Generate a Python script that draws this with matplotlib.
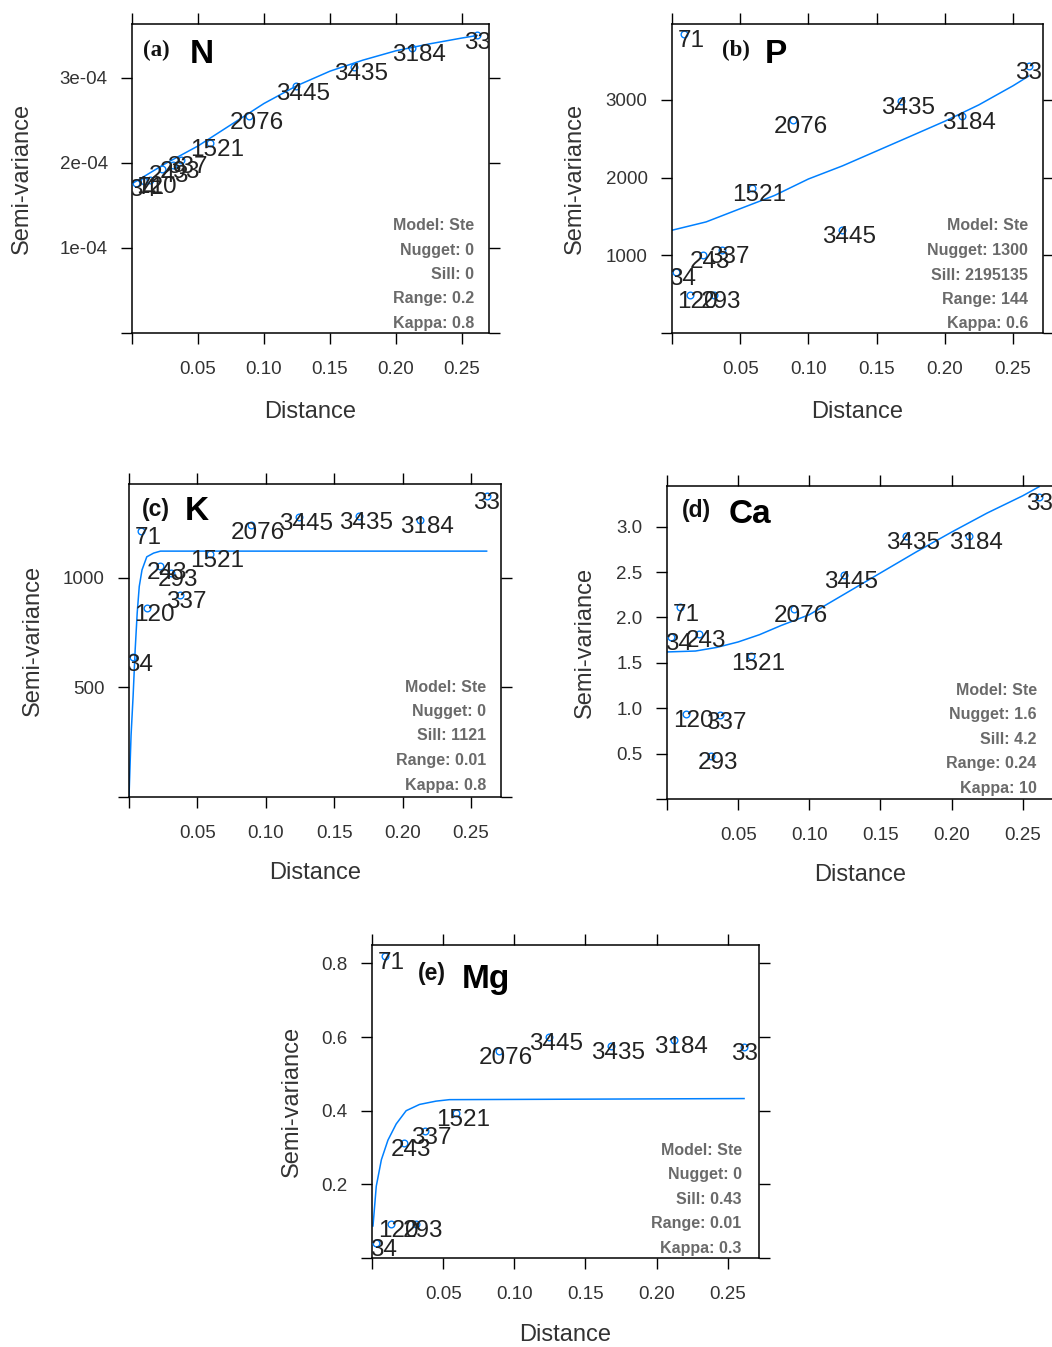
import matplotlib
matplotlib.use("Agg")
import matplotlib.pyplot as plt
from matplotlib.transforms import offset_copy

plt.rcParams['font.family'] = ['Liberation Sans', 'DejaVu Sans']

W, H, DPI = 1052, 1347, 100

# ---------------- data ----------------
dist = [0.003, 0.009, 0.0135, 0.0225, 0.031, 0.037, 0.059, 0.089, 0.1245, 0.168, 0.2125, 0.2615]
npairs = ["34", "71", "120", "243", "293", "337", "1521", "2076", "3445", "3435", "3184", "330"]

gamma_N = [1.77e-4, 1.79e-4, 1.80e-4, 1.93e-4, 1.98e-4, 2.03e-4, 2.24e-4, 2.55e-4, 2.90e-4, 3.13e-4, 3.35e-4, 3.50e-4]
gamma_P = [783, 3850, 486, 1004, 486, 1065, 1863, 2736, 1322, 2980, 2796, 3433]
gamma_K = [636, 1212, 862, 1053, 1020, 922, 1107, 1238, 1276, 1283, 1261, 1374]
gamma_Ca = [1.78, 2.11, 0.94, 1.82, 0.47, 0.92, 1.57, 2.09, 2.47, 2.90, 2.90, 3.33]
gamma_Mg = [0.040, 0.82, 0.093, 0.312, 0.093, 0.346, 0.393, 0.563, 0.600, 0.575, 0.592, 0.573]

fit_x_N = [0, 0.025, 0.05, 0.075, 0.1, 0.125, 0.15, 0.175, 0.2, 0.225, 0.25, 0.2615]
fit_y_N = [1.756e-4, 1.99e-4, 2.20e-4, 2.45e-4, 2.70e-4, 2.91e-4, 3.08e-4, 3.21e-4, 3.32e-4, 3.40e-4, 3.47e-4, 3.50e-4]

fit_x_P = [0, 0.025, 0.05, 0.075, 0.1, 0.125, 0.15, 0.175, 0.2, 0.225, 0.25, 0.2615]
fit_y_P = [1322, 1429, 1599, 1768, 1981, 2150, 2341, 2532, 2724, 2935, 3180, 3305]

fit_x_K = [0, 0.0015, 0.003, 0.0045, 0.006, 0.0075, 0.0095, 0.013, 0.018, 0.023, 0.2615]
fit_y_K = [0, 280, 460, 670, 840, 960, 1035, 1095, 1112, 1121, 1121]

fit_x_Ca = [0, 0.02, 0.035, 0.05, 0.065, 0.08, 0.1, 0.125, 0.15, 0.175, 0.2, 0.225, 0.25, 0.2615]
fit_y_Ca = [1.62, 1.63, 1.67, 1.73, 1.81, 1.91, 2.03, 2.26, 2.49, 2.72, 2.94, 3.15, 3.34, 3.44]

fit_x_Mg = [0.0007, 0.003, 0.0066, 0.0112, 0.017, 0.024, 0.0334, 0.045, 0.0544, 0.2615]
fit_y_Mg = [0.087, 0.195, 0.267, 0.32, 0.364, 0.40, 0.417, 0.426, 0.43, 0.433]

legend_N = ["Model: Ste", "Nugget: 0", "Sill: 0", "Range: 0.2", "Kappa: 0.8"]
legend_P = ["Model: Ste", "Nugget: 1300", "Sill: 2195135", "Range: 144", "Kappa: 0.6"]
legend_K = ["Model: Ste", "Nugget: 0", "Sill: 1121", "Range: 0.01", "Kappa: 0.8"]
legend_Ca = ["Model: Ste", "Nugget: 1.6", "Sill: 4.2", "Range: 0.24", "Kappa: 10"]
legend_Mg = ["Model: Ste", "Nugget: 0", "Sill: 0.43", "Range: 0.01", "Kappa: 0.3"]

xticks = [0, 0.05, 0.10, 0.15, 0.20, 0.25]
xticklabels = ["", "0.05", "0.10", "0.15", "0.20", "0.25"]

yticks_N = [0, 1e-4, 2e-4, 3e-4]
yticklabels_N = ["", "1e-04", "2e-04", "3e-04"]
yticks_P = [0, 1000, 2000, 3000]
yticklabels_P = ["", "1000", "2000", "3000"]
yticks_K = [0, 500, 1000]
yticklabels_K = ["", "500", "1000"]
yticks_Ca = [0, 0.5, 1.0, 1.5, 2.0, 2.5, 3.0]
yticklabels_Ca = ["", "0.5", "1.0", "1.5", "2.0", "2.5", "3.0"]
yticks_Mg = [0, 0.2, 0.4, 0.6, 0.8]
yticklabels_Mg = ["", "0.2", "0.4", "0.6", "0.8"]

# ---------------- styling ----------------
BLUE = "#0080FF"
DARK = "#222222"
TICKC = "#333333"
LEGC = "#6a6a6a"

fig = plt.figure(figsize=(W / DPI, H / DPI), dpi=DPI)


def fx(px):
    return px / W


def fy(py):
    return 1 - py / H


def panel(box, ylim, gamma, fx_, fy_, yt, ytl, legend, tag, elem,
          tag_pos, elem_pos, tag_serif, ylab_x, xlab_y, leg_right, leg_bottom):
    left, right, top, bottom = box
    ax = fig.add_axes([fx(left), fy(bottom), (right - left) / W, (bottom - top) / H])
    ax.set_xlim(0, 0.272 if right - left > 360 else 0.2705)
    ax.set_ylim(*ylim)
    ax.plot(fx_, fy_, color=BLUE, lw=1.1, zorder=2)
    ax.plot(dist, gamma, ls="none", marker="o", ms=4.8, mfc="none", mec=BLUE, mew=1.0, zorder=3)
    trans = offset_copy(ax.transData, fig=fig, x=5.0, y=-9.4, units="points")
    for xv, yv, lab in zip(dist, gamma, npairs):
        ax.text(xv, yv, lab, transform=trans, ha="center", va="baseline",
                fontsize=17.5, color=DARK, clip_on=True, zorder=4)
    ax.set_xticks(xticks)
    ax.set_xticklabels(xticklabels)
    ax.set_yticks(yt)
    ax.set_yticklabels(ytl)
    ax.tick_params(axis="both", direction="out", length=8, width=1.0, colors="black",
                   labelcolor=TICKC, labelsize=13.5, top=True, right=True)
    ax.tick_params(axis="x", pad=12)
    ax.tick_params(axis="y", pad=9.5)
    for s in ax.spines.values():
        s.set_linewidth(1.1)
    ax.set_xlabel("Distance", fontsize=17, color=TICKC, va="center")
    ax.set_ylabel("Semi-variance", fontsize=17, color=TICKC, va="center")
    ax.xaxis.set_label_coords(0.5, (bottom - xlab_y) / (bottom - top))
    ax.yaxis.set_label_coords((ylab_x - left) / (right - left), 0.5)
    # legend block
    n = len(legend)
    for i, line in enumerate(legend):
        yy = leg_bottom - (n - 1 - i) * 24.5
        fig.text(fx(leg_right), fy(yy), line, ha="right", va="center", fontsize=11.5,
                 fontweight="bold", color=LEGC)
    fam = ["Liberation Serif", "DejaVu Serif"] if tag_serif else ["Liberation Sans", "DejaVu Sans"]
    fig.text(fx(tag_pos[0]), fy(tag_pos[1]), tag, ha="left", va="center", fontsize=16.5,
             fontweight="bold", family=fam, color="#111111")
    fig.text(fx(elem_pos[0]), fy(elem_pos[1]), elem, ha="left", va="baseline", fontsize=24,
             fontweight="bold", color="black")
    return ax


panel((132, 489, 24, 333), (0, 3.635e-4), gamma_N, fit_x_N, fit_y_N, yticks_N, yticklabels_N,
      legend_N, "(a)", "N", (143, 50), (190, 63), True, 21.7, 411.7, 474, 323.5)
panel((672, 1043, 24, 333), (0, 3975), gamma_P, fit_x_P, fit_y_P, yticks_P, yticklabels_P,
      legend_P, "(b)", "P", (721.7, 50), (765, 63), True, 575, 411.7, 1028, 324)
panel((129, 501, 484, 797), (0, 1427), gamma_K, fit_x_K, fit_y_K, yticks_K, yticklabels_K,
      legend_K, "(c)", "K", (141.7, 510), (185, 520), False, 33.3, 873, 486, 785)
panel((667, 1054, 486, 799), (0, 3.448), gamma_Ca, fit_x_Ca, fit_y_Ca, yticks_Ca, yticklabels_Ca,
      legend_Ca, "(d)", "Ca", (681.7, 510.7), (728.3, 523.3), False, 585, 875, 1036.7, 788.3)
panel((372, 759, 945, 1258), (0, 0.85), gamma_Mg, fit_x_Mg, fit_y_Mg, yticks_Mg, yticklabels_Mg,
      legend_Mg, "(e)", "Mg", (418.3, 973.3), (461.7, 988.3), False, 291.7, 1335, 741.7, 1248.3)

fig.savefig("out.png", dpi=DPI)
